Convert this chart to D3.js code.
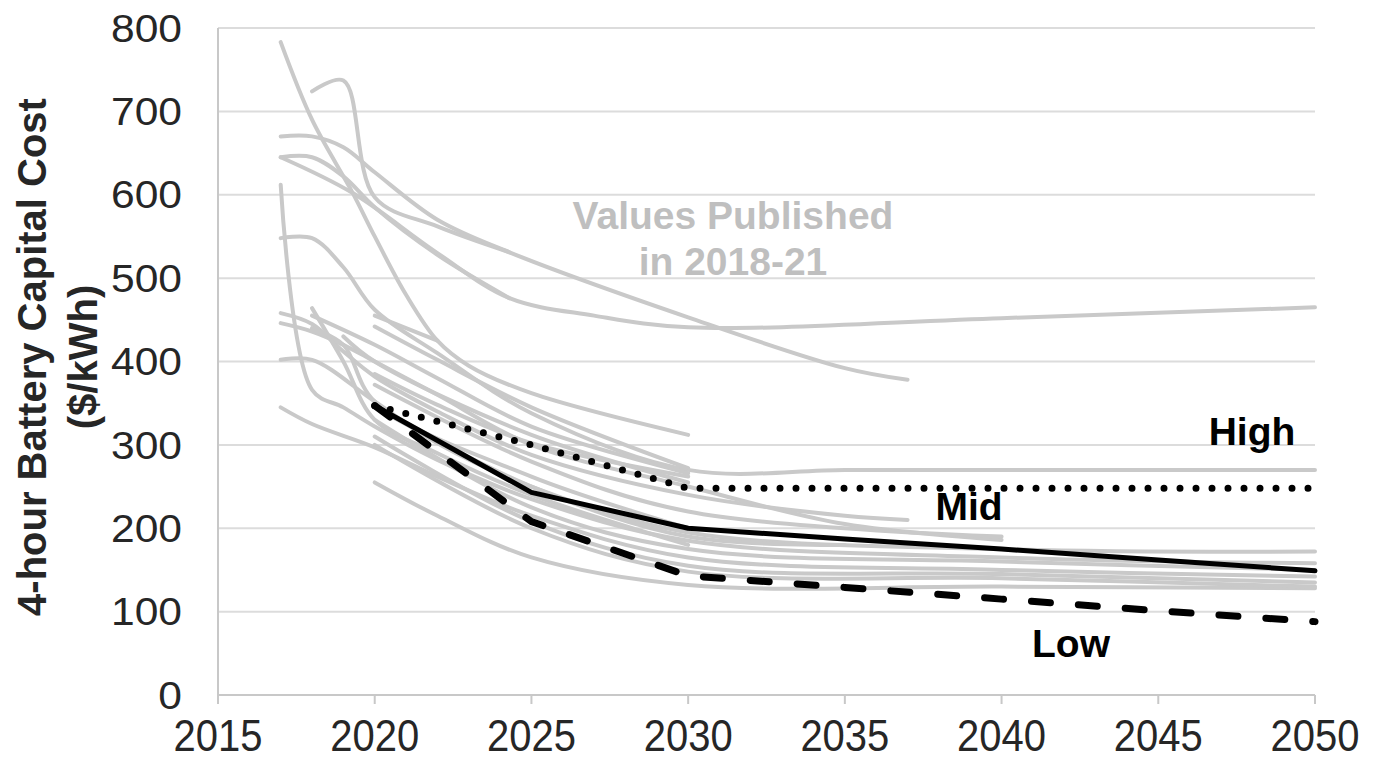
<!DOCTYPE html>
<html>
<head>
<meta charset="utf-8">
<script src="https://cdn.jsdelivr.net/npm/d3@7"></script>
<style>
  html, body { margin: 0; padding: 0; background: #ffffff; }
  svg { display: block; }
  text { font-family: "Liberation Sans", Arial, sans-serif; }
</style>
</head>
<body>
<svg id="chart" width="1373" height="761"></svg>
<script>
// ---------------- data ----------------
const xTicks = [2015, 2020, 2025, 2030, 2035, 2040, 2045, 2050];
const yTicks = [0, 100, 200, 300, 400, 500, 600, 700, 800];

// published projections (grey), [year, $/kWh]
const pub01 = [[2017,783],[2018,690],[2019.3,602],[2020,550],[2021,480],[2022,425],[2023,395],[2025,362],[2030,312]];
const pub02 = [[2018,724],[2019,737],[2020,597],[2022,562],[2024.3,531]];
const pub03 = [[2017,670],[2018,670],[2019,657],[2020,627],[2022,570],[2024.3,531],[2030,453],[2035,392],[2037,378]];
const pub04 = [[2017,645],[2018,645],[2019,622],[2020,585],[2022,528],[2024.3,476]];
const pub05 = [[2017,645],[2019.3,602],[2022,530],[2024.3,476],[2027,455],[2030,441],[2040,452],[2050,465]];
const pub06 = [[2017,612],[2018,366],[2019,345],[2020,322],[2022,282],[2025,235],[2030,185],[2040,165],[2050,158]];
const pub07 = [[2017,548],[2018,548],[2019,513],[2020,462],[2022,410],[2025,338],[2030,270],[2035,270],[2040,270],[2045,270],[2050,270]];
const pub08 = [[2017,458],[2018,445],[2019,412],[2020,382],[2022,340],[2025,288],[2030,240],[2035,215],[2037,210]];
const pub09 = [[2017,446],[2018,436],[2019,420],[2020,400],[2022,360],[2025,300],[2030,250],[2035,205],[2040,186]];
const pub10 = [[2017,402],[2018,402],[2020,352],[2022,302],[2025,250],[2030,195],[2040,175],[2050,172]];
const pub11 = [[2017,345],[2018,325],[2020,297],[2022,262],[2025,215],[2030,165],[2040,150],[2050,142]];
const pub12 = [[2018,464],[2019,400],[2020,330],[2022,290],[2025,240],[2030,180]];
const pub13 = [[2020,455],[2022,425]];
const pub14 = [[2020,442],[2022,402],[2025,345],[2030,272]];
const pub15 = [[2020,385],[2022,348],[2025,302],[2030,262]];
const pub16 = [[2020,372],[2025,280],[2030,220],[2040,190]];
const pub17 = [[2020,255],[2022,215],[2025,165],[2030,132],[2040,130],[2050,128]];
const pub18 = [[2020,330],[2025,225],[2030,175],[2040,160],[2050,150]];
const pub19 = [[2020,310],[2025,208],[2030,155],[2040,145],[2050,135]];
const pub20 = [[2018,440],[2019,420],[2020,352],[2025,262],[2030,200]];
const pub21 = [[2018,455],[2020,420],[2022,380],[2025,322],[2030,266]];
const pub22 = [[2019,430],[2020,400],[2025,312],[2030,255]];
const pub23 = [[2020,345],[2025,250],[2030,190],[2035,180]];
const pub24 = [[2020,300],[2025,200],[2030,148],[2040,140],[2050,130]];
const published = [pub01,pub02,pub03,pub04,pub05,pub06,pub07,pub08,pub09,pub10,pub11,pub12,
                   pub13,pub14,pub15,pub16,pub17,pub18,pub19,pub20,pub21,pub22,pub23,pub24];

// scenario projections (black)
const scenarioYears = [2020, 2025, 2030, 2035, 2040, 2045, 2050];
const highValues = [347, 300, 248, 248, 248, 248, 248];
const midValues  = [347, 243, 200, 187, 175, 162, 149];
const lowValues  = [347, 208, 143, 129, 115, 101, 88];

// ---------------- chart ----------------
const svg = d3.select("#chart");
const x = d3.scaleLinear().domain([2015, 2050]).range([218, 1315]);
const y = d3.scaleLinear().domain([0, 800]).range([695, 28]);

// gridlines
svg.append("g").selectAll("line")
  .data(yTicks.filter(d => d > 0))
  .join("line")
  .attr("x1", x(2015)).attr("x2", x(2050))
  .attr("y1", d => y(d)).attr("y2", d => y(d))
  .attr("stroke", "#dcdcdc").attr("stroke-width", 2);

// axes lines
svg.append("line").attr("x1", x(2015)).attr("x2", x(2015)).attr("y1", y(800)).attr("y2", y(0))
  .attr("stroke", "#c8c8c8").attr("stroke-width", 2);
svg.append("line").attr("x1", x(2015)).attr("x2", x(2050)).attr("y1", y(0)).attr("y2", y(0))
  .attr("stroke", "#c8c8c8").attr("stroke-width", 2);
svg.append("g").selectAll("line").data(xTicks).join("line")
  .attr("x1", d => x(d)).attr("x2", d => x(d)).attr("y1", y(0)).attr("y2", y(0) + 9)
  .attr("stroke", "#c8c8c8").attr("stroke-width", 2);

// tick labels
svg.append("g").selectAll("text").data(yTicks).join("text")
  .attr("transform", d => `translate(182,${y(d)}) scale(1.12,1)`)
  .attr("dy", "0.36em")
  .attr("text-anchor", "end").attr("font-size", 38).attr("fill", "#262626")
  .text(d => d);
svg.append("g").selectAll("text").data(xTicks).join("text")
  .attr("transform", d => `translate(${x(d)},751) scale(1,1.1)`)
  .attr("text-anchor", "middle").attr("font-size", 40).attr("fill", "#262626")
  .text(d => d);

// y title
const yt = svg.append("text").attr("transform", "translate(46,357) rotate(-90)")
  .attr("text-anchor", "middle").attr("font-size", 40).attr("font-weight", "bold").attr("fill", "#262626");
yt.append("tspan").attr("x", 0).attr("y", 0).text("4-hour Battery Capital Cost");
yt.append("tspan").attr("x", 0).attr("y", 0).attr("dy", 51).text("($/kWh)");

// grey lines (smoothed like the source chart)
const lineGen = d3.line().x(d => x(d[0])).y(d => y(d[1])).curve(d3.curveCatmullRom.alpha(0.5));
svg.append("g").selectAll("path").data(published).join("path")
  .attr("d", lineGen)
  .attr("fill", "none").attr("stroke", "#c9c9c9").attr("stroke-width", 4)
  .attr("stroke-linejoin", "round").attr("stroke-linecap", "round");

// black scenario lines
const sLine = d3.line().x((d, i) => x(scenarioYears[i])).y(d => y(d));
svg.append("path").attr("d", sLine(highValues)).attr("fill", "none")
  .attr("stroke", "#000").attr("stroke-width", 7).attr("stroke-linecap", "round")
  .attr("stroke-dasharray", "0,16");
svg.append("path").attr("d", sLine(lowValues)).attr("fill", "none")
  .attr("stroke", "#000").attr("stroke-width", 7).attr("stroke-linecap", "round")
  .attr("stroke-dasharray", "19,28");
svg.append("path").attr("d", sLine(midValues)).attr("fill", "none")
  .attr("stroke", "#000").attr("stroke-width", 5).attr("stroke-linejoin", "round").attr("stroke-linecap", "round");

// annotations
svg.append("text").attr("x", 733).attr("y", 229).attr("text-anchor", "middle")
  .attr("font-size", 39).attr("font-weight", "bold").attr("fill", "#bfbfbf").text("Values Published");
svg.append("text").attr("x", 733).attr("y", 275).attr("text-anchor", "middle")
  .attr("font-size", 39).attr("font-weight", "bold").attr("fill", "#bfbfbf").text("in 2018-21");
svg.append("text").attr("x", 1252).attr("y", 445).attr("text-anchor", "middle")
  .attr("font-size", 39).attr("font-weight", "bold").attr("fill", "#000").text("High");
svg.append("text").attr("x", 969).attr("y", 520).attr("text-anchor", "middle")
  .attr("font-size", 39).attr("font-weight", "bold").attr("fill", "#000").text("Mid");
svg.append("text").attr("x", 1071).attr("y", 657).attr("text-anchor", "middle")
  .attr("font-size", 39).attr("font-weight", "bold").attr("fill", "#000").text("Low");
</script>
</body>
</html>
